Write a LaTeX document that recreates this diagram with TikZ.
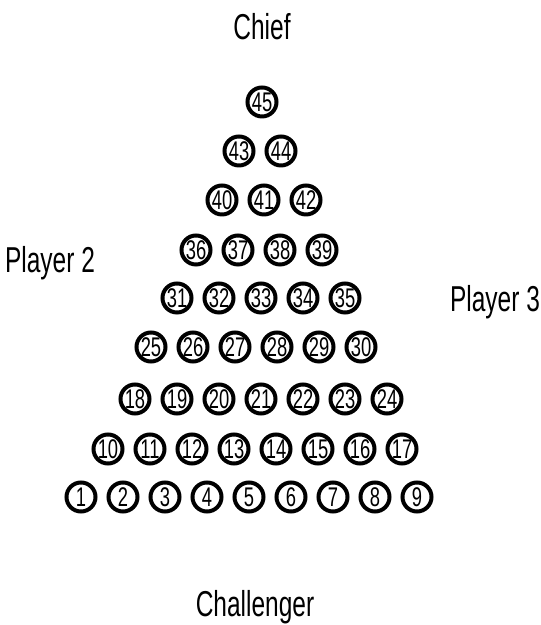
\documentclass[tikz,border=0pt]{standalone}
\usepackage{fontspec}
\setmainfont{Liberation Sans}
\newfontfamily\narrowfont[FakeStretch=0.68]{Liberation Sans}
\usepackage{tikz}
\usetikzlibrary{positioning}
\tikzstyle{ball} = [circle, draw, line width=2pt, minimum size=14.5pt, inner sep=0, font=\narrowfont\fontsize{13.5pt}{13.5pt}\selectfont]
\tikzstyle{side} = [anchor=base, inner sep=0, font=\narrowfont\fontsize{18pt}{18pt}\selectfont]

\begin{document}
\begin{tikzpicture}[x=0.5pt, y=0.5pt]
\useasboundingbox (0,0) rectangle (540,625);

% rows from the bottom: row/y/first x/first number
\foreach \r/\y/\x/\f in {1/497/81/1, 2/449/108/10, 3/399/135/18, 4/347/151/25, 5/298/177/31, 6/250/196/36, 7/200/222/40, 8/151/239/43, 9/102/262/45} {
  \pgfmathtruncatemacro\last{9-\r}
  \foreach \k in {0,...,\last} {
    \pgfmathtruncatemacro\n{\f+\k}
    \node [ball] (c\n) at (\x+42*\k, 625-\y) {\n};
  }
}

\node [side] (chief) at (262,585) {Chief};
\node [side] (p2) at (50,352) {Player 2};
\node [side] (p3) at (495,313) {Player 3};
\node [side] (chal) at (255,8) {Challenger};

\end{tikzpicture}
\end{document}
